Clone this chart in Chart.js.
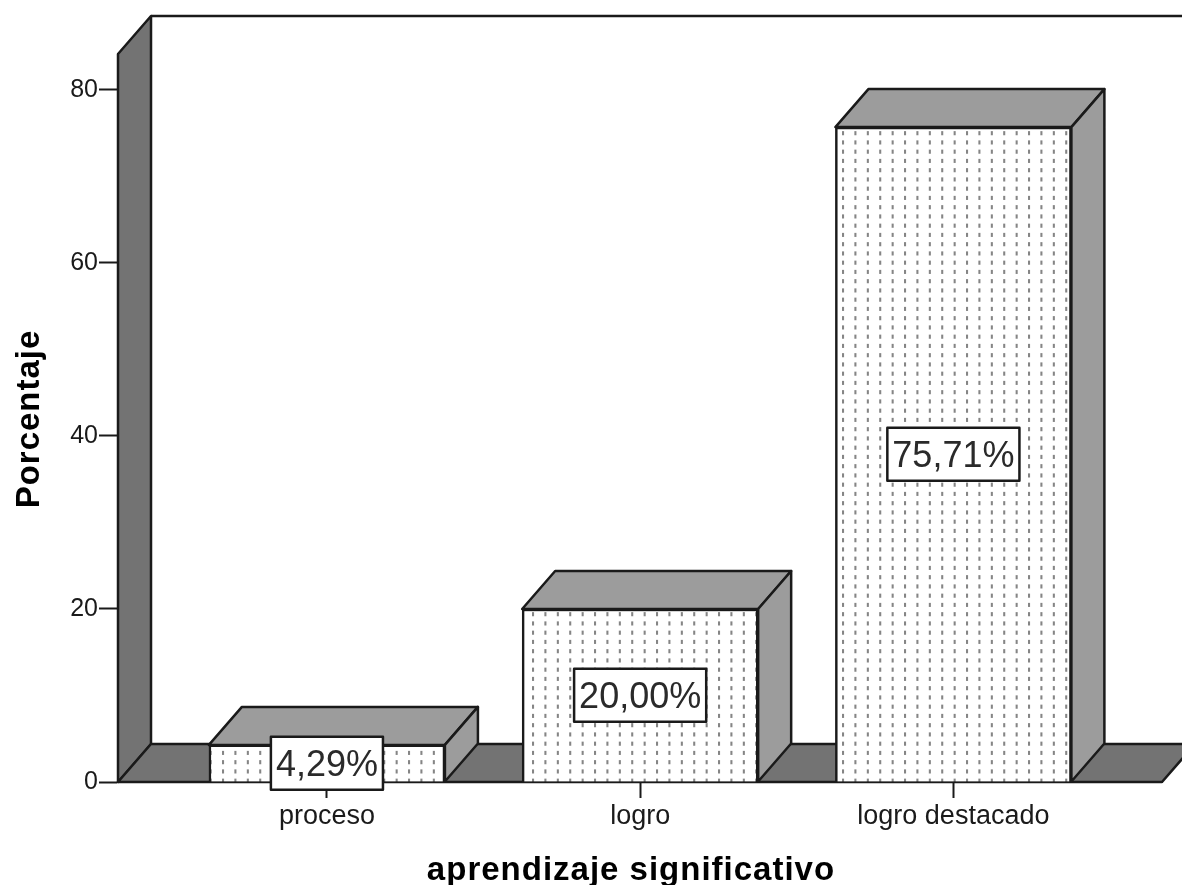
<!DOCTYPE html>
<html>
<head>
<meta charset="utf-8">
<style>
html,body{margin:0;padding:0;background:#fff}
#wrap{position:relative;width:1182px;height:885px;overflow:hidden}
</style>
<script src="https://cdn.jsdelivr.net/npm/chart.js@4"></script>
</head>
<body>
<div id="wrap"><canvas id="c" width="1182" height="885"></canvas></div>
<script>
const categories = ['proceso', 'logro', 'logro destacado'];
const percentages = [4.29, 20.00, 75.71];
const yTicks = [0, 20, 40, 60, 80];
const xTitle = 'aprendizaje significativo';
const yTitle = 'Porcentaje';

const INK = '#1a1a1a';
const WALL = '#737373';
const CAP = '#9c9c9c';
const DEPTH_X = 33;
const DEPTH_Y = 38;
const LINE = 2.5;
const FONT = '"Liberation Sans", Arial, sans-serif';

// Stippled fill of the bar fronts
function dotPattern() {
  const p = document.createElement('canvas');
  p.width = 12; p.height = 9;
  const g = p.getContext('2d');
  g.fillStyle = '#fff';
  g.fillRect(0, 0, 12, 9);
  g.fillStyle = '#858585';
  g.fillRect(5, 3, 2, 4);
  const pattern = g.createPattern(p, 'repeat');
  pattern.setTransform(new DOMMatrix([12.4 / 12, 0, 0, 9.25 / 9, 6, -1.5]));
  return pattern;
}

function poly(ctx, pts, fill) {
  ctx.beginPath();
  pts.forEach((p, i) => i ? ctx.lineTo(p[0], p[1]) : ctx.moveTo(p[0], p[1]));
  ctx.closePath();
  ctx.fillStyle = fill;
  ctx.fill();
  ctx.stroke();
}

// Back wall, side wall and floor behind the bars
const roomPlugin = {
  id: 'room',
  beforeDatasetsDraw(chart) {
    const { ctx, chartArea: a } = chart;
    ctx.save();
    ctx.strokeStyle = INK;
    ctx.lineWidth = LINE;
    ctx.lineJoin = 'round';
    poly(ctx, [[a.left, a.bottom], [a.left, a.top], [a.left + DEPTH_X, a.top - DEPTH_Y], [a.left + DEPTH_X, a.bottom - DEPTH_Y]], WALL);
    poly(ctx, [[a.left, a.bottom], [a.left + DEPTH_X, a.bottom - DEPTH_Y], [a.right + DEPTH_X, a.bottom - DEPTH_Y], [a.right, a.bottom]], WALL);
    ctx.beginPath();
    ctx.moveTo(a.left + DEPTH_X, a.top - DEPTH_Y);
    ctx.lineTo(a.right + DEPTH_X + 10, a.top - DEPTH_Y);
    ctx.stroke();
    ctx.restore();
  }
};

// Extruded sides of each bar and the boxed value labels
const extrudePlugin = {
  id: 'extrude',
  afterDatasetsDraw(chart) {
    const { ctx } = chart;
    const meta = chart.getDatasetMeta(0);
    ctx.save();
    ctx.strokeStyle = INK;
    ctx.lineWidth = LINE;
    ctx.lineJoin = 'round';
    meta.data.forEach(bar => {
      const l = bar.x - bar.width / 2, r = bar.x + bar.width / 2, t = bar.y, b = bar.base;
      poly(ctx, [[l, t], [l + DEPTH_X, t - DEPTH_Y], [r + DEPTH_X, t - DEPTH_Y], [r, t]], CAP);
      poly(ctx, [[r, t], [r + DEPTH_X, t - DEPTH_Y], [r + DEPTH_X, b - DEPTH_Y], [r, b]], CAP);
    });
    ctx.font = '36px ' + FONT;
    ctx.textAlign = 'center';
    ctx.textBaseline = 'middle';
    meta.data.forEach((bar, i) => {
      const text = percentages[i].toFixed(2).replace('.', ',') + '%';
      const w = ctx.measureText(text).width + 10;
      const h = 53;
      const cy = (bar.y + bar.base) / 2;
      ctx.fillStyle = '#fff';
      ctx.fillRect(bar.x - w / 2, cy - h / 2, w, h);
      ctx.strokeRect(bar.x - w / 2, cy - h / 2, w, h);
      ctx.fillStyle = '#2a2a2a';
      ctx.fillText(text, bar.x, cy + 3);
    });
    ctx.restore();
  }
};

// Axis titles, tracked out a little
const titlePlugin = {
  id: 'axisTitles',
  afterDraw(chart) {
    const { ctx, chartArea: a } = chart;
    ctx.save();
    ctx.font = 'bold 33px ' + FONT;
    ctx.letterSpacing = '1px';
    ctx.fillStyle = '#000';
    ctx.textAlign = 'center';
    ctx.textBaseline = 'middle';
    ctx.fillText(xTitle, a.left + 513, 871);
    ctx.translate(30, 419);
    ctx.rotate(-Math.PI / 2);
    ctx.fillText(yTitle, 0, 0);
    ctx.restore();
  }
};

new Chart(document.getElementById('c'), {
  type: 'bar',
  data: {
    datasets: [{
      data: percentages.map((v, i) => ({ x: i, y: v })),
      backgroundColor: dotPattern(),
      borderColor: INK,
      borderWidth: LINE,
      barThickness: 236
    }]
  },
  plugins: [roomPlugin, extrudePlugin, titlePlugin],
  options: {
    responsive: false,
    animation: false,
    layout: { padding: { top: 54, right: 20, left: 0, bottom: 0 } },
    plugins: { legend: { display: false }, tooltip: { enabled: false } },
    scales: {
      x: {
        type: 'linear',
        offset: false,
        min: -0.667,
        max: 2.666,
        afterFit(s) { s.height = 103; },
        afterBuildTicks(s) { s.ticks = categories.map((_, i) => ({ value: i })); },
        grid: { offset: false, drawOnChartArea: false, tickLength: 16, tickColor: INK, tickWidth: 2 },
        border: { color: INK, width: 2 },
        ticks: {
          padding: 2,
          color: INK,
          maxRotation: 0,
          font: { family: FONT, size: 27 },
          callback: v => categories[v]
        }
      },
      y: {
        min: 0,
        max: 84.16,
        afterFit(s) { s.width = 118; },
        afterBuildTicks(s) { s.ticks = yTicks.map(v => ({ value: v })); },
        grid: { drawOnChartArea: false, tickLength: 19, tickColor: INK, tickWidth: 2 },
        border: { color: INK, width: 2 },
        ticks: {
          padding: 1,
          color: INK,
          font: { family: FONT, size: 25 }
        }
      }
    }
  }
});
</script>
</body>
</html>
